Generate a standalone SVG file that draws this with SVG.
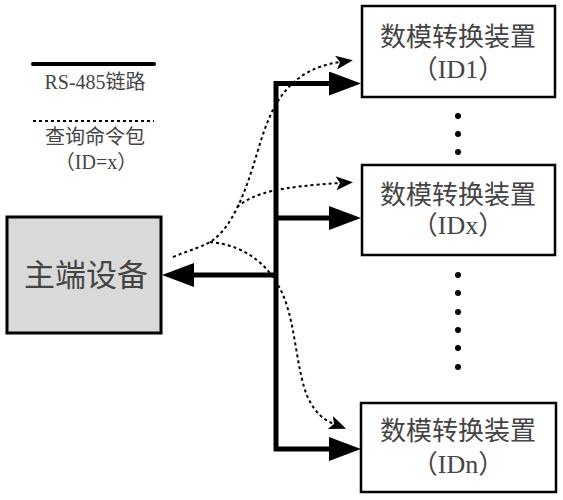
<svg xmlns="http://www.w3.org/2000/svg" width="563" height="500" viewBox="0 0 563 500">
<defs>
<style>
.box{fill:#ffffff;stroke:#000;stroke-width:2.5}
.master{fill:#d9d9d9;stroke:#000;stroke-width:3}
.t{font-family:"Liberation Serif","Noto Sans CJK SC",serif;fill:#444;text-anchor:middle}
.bus{fill:none;stroke:#000;stroke-width:5}
.dot{fill:none;stroke:#000;stroke-width:2;stroke-dasharray:3 3}
.pt{fill:#000}
</style>
<marker id="big" markerUnits="userSpaceOnUse" viewBox="0 0 32 24" refX="1" refY="12" markerWidth="32" markerHeight="24" orient="auto">
<path d="M0,0 L32,12 L0,24 Z" fill="#000"/>
</marker>
<marker id="small" markerUnits="userSpaceOnUse" viewBox="0 0 17 14" refX="4" refY="7" markerWidth="17" markerHeight="14" orient="auto">
<path d="M0,0 L17,7 L0,14 L4,7 Z" fill="#000"/>
</marker>
</defs>
<rect width="563" height="500" fill="#fff"/>

<g id="legend">
<line x1="33" y1="64" x2="154" y2="64" stroke="#000" stroke-width="4" stroke-linecap="round"/>
<text class="t" x="95" y="89" font-size="20">RS-485链路</text>
<line x1="33" y1="121" x2="154" y2="121" class="dot" stroke-width="2.5" stroke-dasharray="3 2.5"/>
<text class="t" x="95" y="144" font-size="20">查询命令包</text>
<text class="t" x="96" y="169" font-size="20">（ID=x）</text>
</g>

<g id="master">
<rect class="master" x="7" y="217" width="154" height="116"/>
<text class="t" x="86" y="286" font-size="31">主端设备</text>
</g>

<g id="dev1">
<rect class="box" x="362" y="6" width="193" height="91"/>
<text class="t" x="458" y="46" font-size="26">数模转换装置</text>
<text class="t" x="458" y="78" font-size="26">（ID1）</text>
</g>

<g id="devx">
<rect class="box" x="362" y="165" width="193" height="90"/>
<text class="t" x="458" y="204" font-size="26">数模转换装置</text>
<text class="t" x="458" y="234" font-size="26">（IDx）</text>
</g>

<g id="devn">
<rect class="box" x="361" y="403" width="195" height="89"/>
<text class="t" x="458" y="440" font-size="26">数模转换装置</text>
<text class="t" x="458" y="473" font-size="26">（IDn）</text>
</g>

<g id="ellipsis">
<circle class="pt" cx="458" cy="116" r="3"/>
<circle class="pt" cx="458" cy="134" r="3"/>
<circle class="pt" cx="458" cy="152" r="3"/>
<circle class="pt" cx="458" cy="275" r="3"/>
<circle class="pt" cx="458" cy="293" r="3"/>
<circle class="pt" cx="458" cy="312" r="3"/>
<circle class="pt" cx="458" cy="330" r="3"/>
<circle class="pt" cx="458" cy="348" r="3"/>
<circle class="pt" cx="458" cy="367" r="3"/>
</g>

<g id="connectors">
<path class="bus" d="M276,81 V451"/>
<path class="bus" d="M274,83.5 H330" marker-end="url(#big)"/>
<path class="bus" d="M276,218 H330" marker-end="url(#big)"/>
<path class="bus" d="M274,449 H330" marker-end="url(#big)"/>
<path class="bus" d="M276,275 H193" marker-end="url(#big)"/>
<path class="dot" d="M173,257 C190,250 205,246 213,240 C232,226 245,195 258,150 C270,110 285,70 340,62" marker-end="url(#small)"/>
<path class="dot" d="M237,207 C255,192 280,187 340,183" marker-end="url(#small)"/>
<path class="dot" d="M210,242 C245,245 270,265 283,295 C296,325 296,370 308,398 C316,414 324,420 334,424" marker-end="url(#small)"/>
</g>
</svg>
